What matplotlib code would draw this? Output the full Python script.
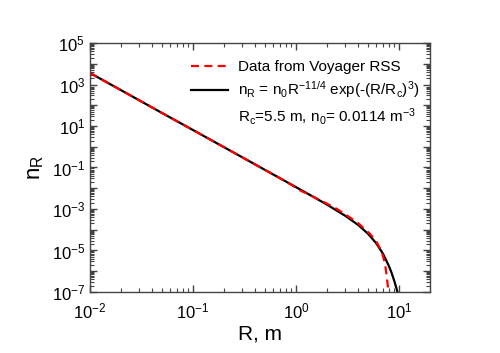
import numpy as np
import matplotlib.pyplot as plt
from matplotlib.lines import Line2D
from matplotlib.ticker import LogLocator, FixedLocator, NullFormatter

plt.rcParams['font.family'] = ['Liberation Sans', 'DejaVu Sans']
plt.rcParams['mathtext.fontset'] = 'custom'
plt.rcParams['mathtext.rm'] = 'Liberation Sans'
plt.rcParams['mathtext.it'] = 'Liberation Sans'

# model curve n_R = n0 R^-11/4 exp(-(R/Rc)^3)
fitR = [0.01, 0.02, 0.05, 0.1, 0.2, 0.5, 1.0, 1.5, 2.0, 3.0, 4.0, 5.0, 6.0, 7.0, 8.0, 8.5, 9.0, 9.3, 9.5, 9.7]
fitN = [3605, 536, 42.6, 6.41, 0.953, 0.0766, 0.0113, 0.00366, 0.00162, 4.73e-4, 1.72e-4,
        6.43e-5, 2.25e-5, 6.87e-6, 1.73e-6, 8.0e-7, 3.39e-7, 1.95e-7, 1.35e-7, 9.1e-8]

# Voyager RSS data
dataR = [0.01, 0.02, 0.05, 0.1, 0.2, 0.5, 0.8, 1.0, 1.1, 1.25, 1.5, 2.0, 2.5, 3.0, 4.0, 5.2, 6.0, 6.8, 7.3, 7.6, 7.9]
dataN = [3605, 536, 42.6, 6.41, 0.953, 0.0766, 0.021, 0.0105, 0.0078, 0.0058, 0.0037, 0.0018, 1.0e-3,
         5.6e-4, 2.1e-4, 6.5e-5, 2.8e-5, 8.8e-6, 2.4e-6, 6e-7, 1e-7]

fig = plt.figure(figsize=(5, 3.53), dpi=100)
ax = fig.add_axes([0.18, 0.173, 0.68, 0.705])

ax.plot(fitR, fitN, color='black', lw=1.6)
ax.plot(dataR, dataN, color='red', lw=1.6, ls=(0, (3.6, 2.4)))

ax.set_xscale('log')
ax.set_yscale('log')
ax.set_xlim(1e-2, 20)
ax.set_ylim(1e-7, 1e5)

ax.xaxis.set_major_locator(FixedLocator([1e-2, 1e-1, 1e0, 1e1]))
ax.xaxis.set_minor_locator(LogLocator(base=10, subs=np.arange(2, 10), numticks=20))
ax.xaxis.set_minor_formatter(NullFormatter())
ax.set_xticklabels(['$10^{-2}$', '$10^{-1}$', '$10^{0}$', '$10^{1}$'])

yexp = list(range(-7, 6))
ax.yaxis.set_major_locator(FixedLocator([10.0 ** e for e in yexp]))
ax.yaxis.set_minor_locator(LogLocator(base=10, subs=np.arange(2, 10), numticks=30))
ax.yaxis.set_minor_formatter(NullFormatter())
ax.set_yticklabels(['$10^{%d}$' % e if e % 2 else '' for e in yexp])

ax.tick_params(which='both', direction='in', top=True, right=True, labelsize=12, color='#444444')
ax.tick_params(which='major', length=5, width=1)
ax.tick_params(which='minor', length=3, width=0.8)
ax.tick_params(axis='x', which='major', pad=7)
for s in ax.spines.values():
    s.set_color('#444444')
    s.set_linewidth(1.0)

ax.set_xlabel('R, m', fontsize=15, labelpad=2)
ax.set_ylabel('n$_\\mathrm{R}$', fontsize=16, labelpad=4)

handles = [Line2D([], [], color='red', lw=1.6, ls=(0, (3.6, 2.4))),
           Line2D([], [], color='black', lw=1.6),
           Line2D([], [], color='none')]
labels = ['Data from Voyager RSS',
          'n$_\\mathrm{R}$ = n$_\\mathrm{0}$R$^{-11/4}$ exp(-(R/R$_\\mathrm{c}$)$^\\mathrm{3}$)',
          'R$_\\mathrm{c}$=5.5 m, n$_\\mathrm{0}$= 0.0114 m$^{-3}$']
ax.legend(handles, labels, loc='upper right', frameon=False, fontsize=11,
          handlelength=2.4, handletextpad=0.65, labelspacing=0.35, borderaxespad=0.3,
          bbox_to_anchor=(1.0, 0.975))

fig.savefig('out.png', dpi=100)
